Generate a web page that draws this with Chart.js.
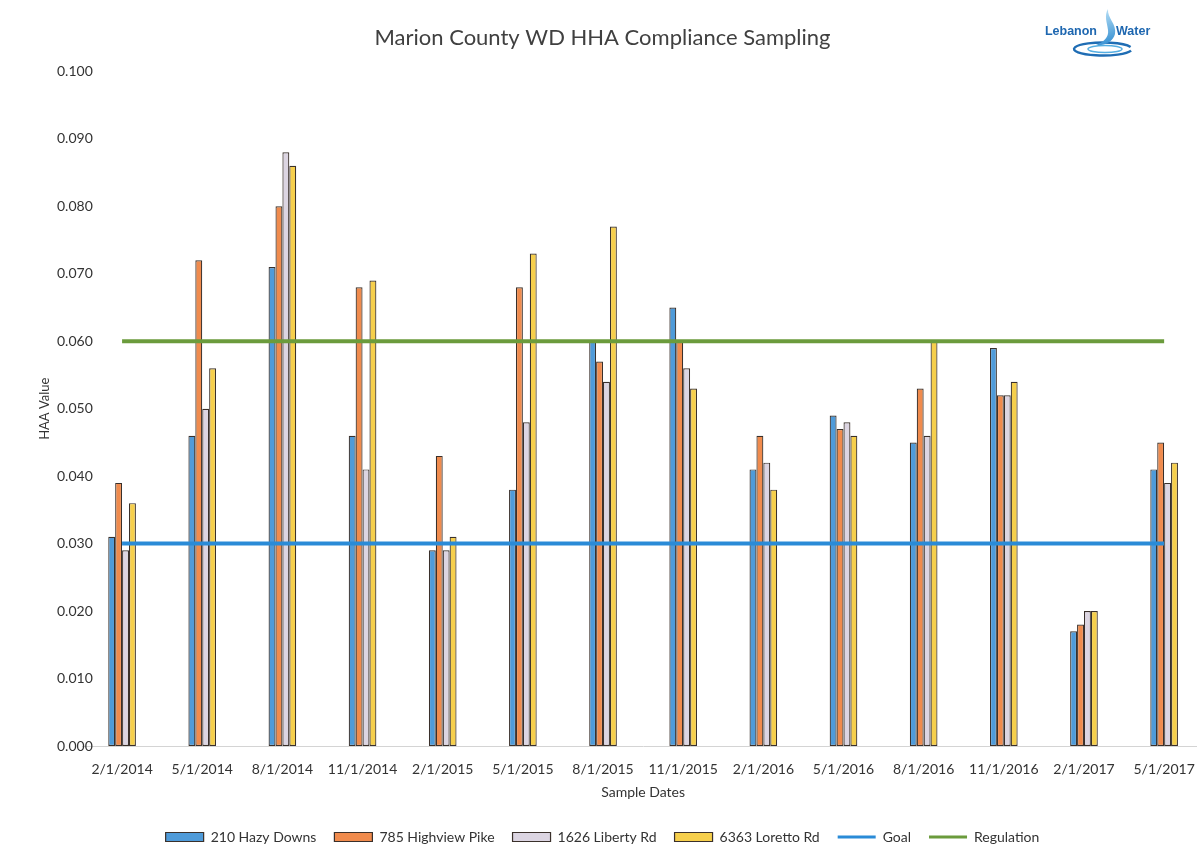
<!DOCTYPE html>
<html>
<head>
<meta charset="utf-8">
<title>Marion County WD HHA Compliance Sampling</title>
<script src="https://cdn.jsdelivr.net/npm/chart.js@4/dist/chart.umd.min.js"></script>
<style>
  html, body { margin: 0; padding: 0; background: #ffffff; overflow: hidden; }
  #wrap { position: absolute; left: 0; top: 0; width: 1210px; height: 851px; }
</style>
</head>
<body>
<div id="wrap"><canvas id="chart" width="1210" height="851"></canvas></div>
<script>
// Sampling dates (categories)
const sampleDates = ['2/1/2014', '5/1/2014', '8/1/2014', '11/1/2014', '2/1/2015', '5/1/2015', '8/1/2015',
  '11/1/2015', '2/1/2016', '5/1/2016', '8/1/2016', '11/1/2016', '2/1/2017', '5/1/2017'];

// HAA results per sampling site (mg/L)
const hazyDowns = [0.031, 0.046, 0.071, 0.046, 0.029, 0.038, 0.060, 0.065, 0.041, 0.049, 0.045, 0.059, 0.017, 0.041];
const highviewPike = [0.039, 0.072, 0.080, 0.068, 0.043, 0.068, 0.057, 0.060, 0.046, 0.047, 0.053, 0.052, 0.018, 0.045];
const libertyRd = [0.029, 0.050, 0.088, 0.041, 0.029, 0.048, 0.054, 0.056, 0.042, 0.048, 0.046, 0.052, 0.020, 0.039];
const lorettoRd = [0.036, 0.056, 0.086, 0.069, 0.031, 0.073, 0.077, 0.053, 0.038, 0.046, 0.060, 0.054, 0.020, 0.042];

// Reference levels
const goalLevel = 0.030;
const regulationLevel = 0.060;

// Value axis ticks
const yTickValues = [0.000, 0.010, 0.020, 0.030, 0.040, 0.050, 0.060, 0.070, 0.080, 0.090, 0.100];

const FONT = 'Lato, "Open Sans", "Liberation Sans", sans-serif';
const BAR_BORDER = '#3a302b';

function constantSeries(v) { return sampleDates.map(() => v); }

// Lebanon Water logo in the top right corner
const logoPlugin = {
  id: 'logo',
  afterDraw(chart) {
    const ctx = chart.ctx;
    ctx.save();
    // swirl rings
    ctx.lineWidth = 2.4;
    ctx.strokeStyle = '#1f6db4';
    ctx.beginPath();
    ctx.ellipse(1103, 49, 29, 6.5, 0, Math.PI * 0.08, Math.PI * 1.9);
    ctx.stroke();
    ctx.lineWidth = 1.5;
    ctx.strokeStyle = '#55aee2';
    ctx.beginPath();
    ctx.ellipse(1105, 49, 17, 3.6, 0, 0, Math.PI * 2);
    ctx.stroke();
    // water drop swoosh
    const grad = ctx.createLinearGradient(1100, 9, 1114, 46);
    grad.addColorStop(0, '#bfe4f8');
    grad.addColorStop(1, '#2a89cf');
    ctx.beginPath();
    ctx.moveTo(1108, 9);
    ctx.bezierCurveTo(1107, 18, 1117, 24, 1115, 34);
    ctx.bezierCurveTo(1113, 42, 1104, 46, 1096, 45);
    ctx.bezierCurveTo(1104, 42, 1109, 37, 1108, 30);
    ctx.bezierCurveTo(1107, 22, 1104, 16, 1108, 9);
    ctx.closePath();
    ctx.fillStyle = grad;
    ctx.fill();
    // wordmark
    ctx.fillStyle = '#1e67b0';
    ctx.font = 'bold 12.5px "Liberation Sans", Arial, sans-serif';
    ctx.textBaseline = 'middle';
    ctx.textAlign = 'right';
    ctx.fillText('Lebanon', 1097, 32);
    ctx.textAlign = 'left';
    ctx.fillText('Water', 1116, 32);
    ctx.restore();
  }
};

const barCommon = {
  type: 'bar',
  borderColor: BAR_BORDER,
  borderWidth: 1.2,
  borderSkipped: false,
  categoryPercentage: 0.345,
  barPercentage: 1.0,
  order: 2
};

const chart = new Chart(document.getElementById('chart'), {
  data: {
    labels: sampleDates,
    datasets: [
      Object.assign({}, barCommon, { label: '210 Hazy Downs', data: hazyDowns, backgroundColor: '#4f9bd9' }),
      Object.assign({}, barCommon, { label: '785 Highview Pike', data: highviewPike, backgroundColor: '#f08b4d' }),
      Object.assign({}, barCommon, { label: '1626 Liberty Rd', data: libertyRd, backgroundColor: '#dcd5e2' }),
      Object.assign({}, barCommon, { label: '6363 Loretto Rd', data: lorettoRd, backgroundColor: '#f6cf4c' }),
      { type: 'line', label: 'Goal', data: constantSeries(goalLevel), borderColor: '#2a8bd7',
        backgroundColor: '#2a8bd7', borderWidth: 4, pointRadius: 0, pointHoverRadius: 0, order: 1 },
      { type: 'line', label: 'Regulation', data: constantSeries(regulationLevel), borderColor: '#6b9b3c',
        backgroundColor: '#6b9b3c', borderWidth: 4, pointRadius: 0, pointHoverRadius: 0, order: 1 }
    ]
  },
  options: {
    responsive: false,
    animation: false,
    events: [],
    layout: { padding: { left: 0, right: 5, top: 0, bottom: -3 } },
    plugins: {
      title: {
        display: true,
        text: 'Marion County WD HHA Compliance Sampling',
        color: '#404040',
        font: { family: FONT, size: 22, weight: 'normal' },
        padding: { top: 25, bottom: 20 }
      },
      legend: {
        position: 'bottom',
        labels: {
          color: '#333333',
          font: { family: FONT, size: 14 },
          usePointStyle: true,
          pointStyleWidth: 38,
          boxHeight: 9,
          padding: 18,
          generateLabels(ch) {
            const items = Chart.defaults.plugins.legend.labels.generateLabels(ch);
            items.forEach(item => {
              const ds = ch.data.datasets[item.datasetIndex];
              if (ds.type === 'line') {
                item.pointStyle = 'line';
                item.lineWidth = 3;
              } else {
                item.pointStyle = 'rect';
                item.lineWidth = 1.2;
                item.strokeStyle = BAR_BORDER;
              }
            });
            return items.sort((a, b) => a.datasetIndex - b.datasetIndex);
          }
        }
      },
      tooltip: { enabled: false }
    },
    scales: {
      x: {
        offset: true,
        grid: { display: false, drawTicks: false },
        border: { display: true, color: '#d4d4d4', width: 1 },
        afterFit(scale) { scale.height = 66; },
        ticks: { color: '#333333', font: { family: FONT, size: 14 }, padding: 15, maxRotation: 0, autoSkip: false },
        title: {
          display: true, text: 'Sample Dates', color: '#333333',
          font: { family: FONT, size: 14 }, padding: { top: 0, bottom: 11 }
        }
      },
      y: {
        min: 0,
        max: 0.1,
        grid: { display: false, drawTicks: false },
        border: { display: false },
        afterBuildTicks(scale) { scale.ticks = yTickValues.map(v => ({ value: v })); },
        afterFit(scale) { scale.width = 82; },
        ticks: {
          color: '#333333',
          font: { family: FONT, size: 14 },
          mirror: true,
          padding: -25,
          callback: v => Number(v).toFixed(3)
        },
        title: {
          display: true, text: 'HAA Value', color: '#333333',
          font: { family: FONT, size: 13 }, padding: { top: 37, bottom: 0 }
        }
      }
    }
  },
  plugins: [logoPlugin]
});
</script>
</body>
</html>
